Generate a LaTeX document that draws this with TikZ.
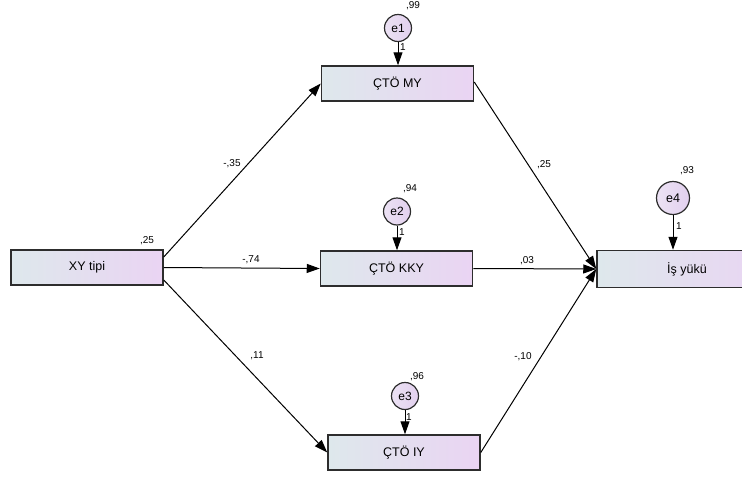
\documentclass[tikz,border=0pt]{standalone}
\usepackage{fontspec}
\setmainfont{Liberation Sans}
\usetikzlibrary{arrows.meta,calc}
\definecolor{boxL}{RGB}{222,232,236}
\definecolor{boxR}{RGB}{234,212,243}
\definecolor{circL}{RGB}{236,226,244}
\definecolor{circR}{RGB}{226,208,238}
\definecolor{edge}{RGB}{45,45,45}
\tikzset{
  obs/.style={draw=edge, line width=1.5pt, left color=boxL, right color=boxR, rectangle,
    minimum width=152pt, minimum height=35pt, inner sep=0pt, font=\fontsize{12.5}{12.5}\selectfont},
  err/.style={draw=edge, line width=1.2pt, left color=circL, right color=circR, circle,
    minimum size=27pt, inner sep=0pt, font=\fontsize{12}{12}\selectfont},
  lbl/.style={font=\fontsize{10}{10}\selectfont, inner sep=0pt},
  one/.style={font=\fontsize{10}{10}\selectfont, inner sep=0pt},
  path/.style={line width=1pt, -{Triangle[length=13pt,width=9pt]}},
}
\begin{document}
\begin{tikzpicture}[x=1pt,y=-1pt]
\useasboundingbox (0,0) rectangle (742,477);
% observed variables
\node[obs] (xy) at (87,267.5) {XY tipi};
\node[obs] (my) at (397.5,83.5) {ÇTÖ MY};
\node[obs] (kky) at (396.5,268.5) {ÇTÖ KKY};
\node[obs] (iy) at (404,452.5) {ÇTÖ IY};
\node[obs, minimum width=180pt, minimum height=37pt] (is) at (687,269) {İş yükü};
% error terms
\node[err] (e1) at (398,28) {e1};
\node[err] (e2) at (397,211.5) {e2};
\node[err] (e3) at (405,396) {e3};
\node[err, minimum size=33pt, font=\fontsize{12.5}{12.5}\selectfont] (e4) at (673,198) {e4};
% error arrows
\draw[path] (e1.south) -- (e1.south |- my.north);
\draw[path] (e2.south) -- (e2.south |- kky.north);
\draw[path] (e3.south) -- (e3.south |- iy.north);
\draw[path] (e4.south) -- (e4.south |- is.north);
% structural paths
\draw[path] ($(xy.east)+(0,-10.5)$) -- (my.west);
\draw[path] (xy.east) -- (kky.west);
\draw[path] ($(xy.east)+(0,12.5)$) -- (iy.west);
\draw[path] ($(my.east)+(0,-1.5)$) -- (is.west);
\draw[path] (kky.east) -- (is.west);
\draw[path] (iy.east) -- (is.west);
% labels
\node[lbl] (l25) at (147,241) {,25};
\node[lbl] (l99) at (413,6) {,99};
\node[lbl] (l94) at (410,189) {,94};
\node[lbl] (l96) at (417,377) {,96};
\node[lbl] (l93) at (687,171) {,93};
\node[one] (o1) at (403,47) {1};
\node[one] (o2) at (402,232) {1};
\node[one] (o3) at (409,417) {1};
\node[one] (o4) at (679,226) {1};
\node[lbl] (p1) at (232,164) {-,35};
\node[lbl] (p2) at (251,260) {-,74};
\node[lbl] (p3) at (257,356) {,11};
\node[lbl] (p4) at (544,165) {,25};
\node[lbl] (p5) at (527,261) {,03};
\node[lbl] (p6) at (523,357) {-,10};
\end{tikzpicture}
\end{document}
